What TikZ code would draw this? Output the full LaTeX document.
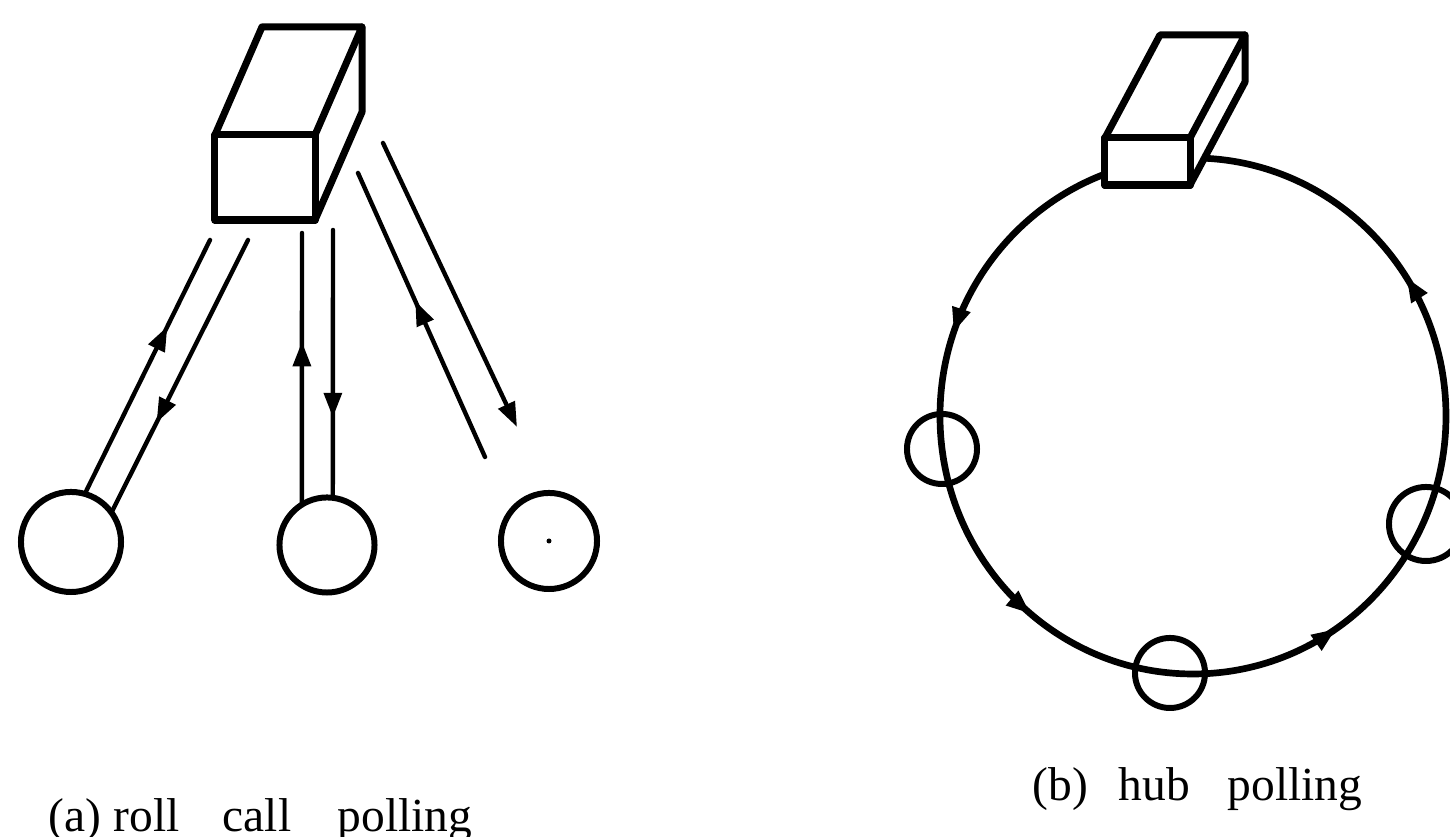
\documentclass[tikz,border=0pt]{standalone}
\usepackage{fontspec}
\setmainfont{Liberation Serif}
\usetikzlibrary{arrows.meta,decorations.markings}
\begin{document}
\begin{tikzpicture}[x=0.01cm,y=0.01cm,
  boxline/.style={line width=2pt, line join=round, line cap=round},
  boxface/.style={draw, boxline, fill=white, inner sep=0pt, outer sep=0pt},
  station/.style={circle, draw, line width=1.7pt, inner sep=0pt, outer sep=0pt},
  link/.style={line width=1.25pt, line cap=round},
  ring/.style={line width=1.9pt},
  tipat/.style={postaction={decorate, decoration={markings,
      mark=at position #1 with {\arrow{Triangle[length=7pt,width=5pt]}}}}},
  lbl/.style={font=\fontsize{13.5}{16}\selectfont, inner sep=0pt, anchor=base west}
]
\useasboundingbox (0,0) rectangle (1450,837);
\clip (0,0) rectangle (1450,837);

% ---------- (a) roll call polling ----------
% central station: front face plus top and side faces
\node[boxface, minimum width=1cm, minimum height=0.85cm] (boxa) at (265,659.5) {};
\draw[boxline] (boxa.north west) -- ++(47,108) -- ++(100,0) -- (boxa.north east);
\draw[boxline] ([shift={(47,108)}]boxa.north east) -- ([shift={(47,108)}]boxa.south east)
  -- (boxa.south east);

% terminals
\node[station, minimum size=1.00cm] (c1) at (71,295) {};
\node[station, minimum size=0.95cm] (c2) at (327,292) {};
\node[station, minimum size=0.96cm] (c3) at (549,296) {};
\fill (c3.center) circle (2.5);

% end points of the signal lines near the central station
\coordinate (p1) at (210,597);
\coordinate (p2) at (248,597);
\coordinate (p3) at (302,604);
\coordinate (p4) at (333,607);
\coordinate (p5a) at (485,380);
\coordinate (p5b) at (358,664);
\coordinate (p6a) at (383,694);
\coordinate (p6b) at (517,410);

\draw[link, tipat=0.66] (c1.74) -- (p1);
\draw[link, tipat=0.67] (p2) -- (c1.36);
\draw[link, tipat=0.60] (c2.122) -- (p3);
\draw[link, tipat=0.70] (p4) -- (c2.83);
\draw[link, tipat=0.55] (p5a) -- (p5b);
\draw[link, -{Triangle[length=7pt,width=5pt]}] (p6a) -- (p6b);

% ---------- (b) hub polling ----------
\coordinate (hub) at (1193,421);
\draw[ring, tipat=0.091, tipat=0.447, tipat=0.640, tipat=0.845]
  (hub) ++(0:253 and 258) arc[start angle=0, end angle=360, x radius=253, y radius=258];

\node[station, minimum size=0.70cm] (s1) at (942,388) {};
\node[station, minimum size=0.70cm] (s2) at (1170,164) {};
\node[station, minimum size=0.74cm] (s3) at (1426,313) {};

% central station sitting on the loop (faces filled white so the loop is hidden)
\node[boxface, minimum width=0.85cm, minimum height=0.47cm] (boxb) at (1147.5,675.5) {};
\fill[white] (boxb.north west) -- ++(55,103) -- ++(85,0) -- ++(0,-47) -- (boxb.south east)
  -- (boxb.north east) -- cycle;
\draw[boxline] (boxb.north west) rectangle (boxb.south east);
\draw[boxline] (boxb.north west) -- ++(55,103) -- ++(85,0) -- (boxb.north east);
\draw[boxline] ([shift={(55,103)}]boxb.north east) -- ([shift={(55,103)}]boxb.south east)
  -- (boxb.south east);

% ---------- captions ----------
\node[lbl] (capa) at (48,5) {\makebox[18.5pt][l]{(a)}\makebox[31pt][l]{roll}\makebox[32.7pt][l]{call}polling};
\node[lbl] (capb) at (1032,36) {\makebox[24.5pt][l]{(b)}\makebox[31pt][l]{hub}polling};
\end{tikzpicture}
\end{document}
